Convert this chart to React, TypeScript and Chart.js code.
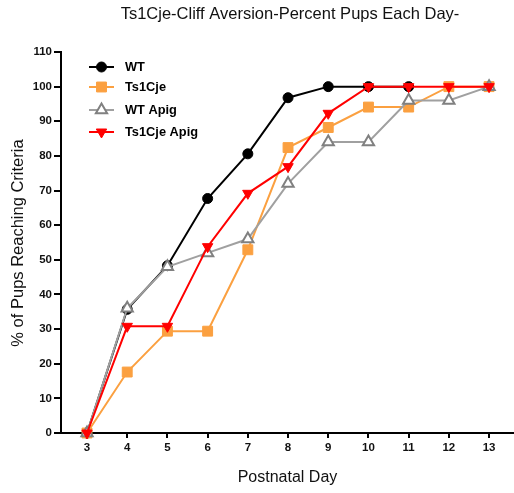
import React, { useEffect, useRef } from "react";
import { Chart, registerables } from "chart.js";
import { drawPoint } from "chart.js/helpers";

Chart.register(...registerables);

// Postnatal days on the x axis
const days = [3, 4, 5, 6, 7, 8, 9, 10, 11, 12, 13];
const yTicks = [0, 10, 20, 30, 40, 50, 60, 70, 80, 90, 100, 110];

// Percent of pups reaching criteria per group
const wt = [0, 35.7, 48.3, 67.7, 80.6, 96.8, 100, 100, 100];
const ts1cje = [0, 17.6, 29.4, 29.4, 52.9, 82.4, 88.2, 94.1, 94.1, 100, 100];
const wtApig = [0, 36, 48, 52, 56, 72, 84, 84, 96, 96, 100];
const ts1cjeApig = [0, 30.8, 30.8, 53.8, 69.2, 76.9, 92.3, 100, 100, 100, 100];

const seriesNames = ["WT", "Ts1Cje", "WT Apig", "Ts1Cje Apig"];

const FONT = "'Liberation Sans', Arial, Helvetica, sans-serif";

const toPoints = (vals: number[]) => vals.map((v, i) => ({ x: days[i], y: v }));

// Draws title, axis titles and the in-plot legend
const annotations = {
  id: "annotations",
  afterDraw(chart: any) {
    const ctx = chart.ctx;
    const area = chart.chartArea;
    const cx = (area.left + area.right) / 2;
    ctx.save();
    ctx.fillStyle = "#111";
    ctx.textAlign = "center";
    ctx.textBaseline = "middle";
    ctx.font = `16.5px ${FONT}`;
    ctx.fillText("Ts1Cje-Cliff Aversion-Percent Pups Each Day-", 290, 14);

    ctx.font = `16px ${FONT}`;
    ctx.fillText("Postnatal Day", cx, 478);

    ctx.save();
    ctx.translate(18, 243);
    ctx.rotate(-Math.PI / 2);
    ctx.font = `16.5px ${FONT}`;
    ctx.fillText("% of Pups Reaching Criteria", 0, 0);
    ctx.restore();

    // legend
    const rowY = [67, 87, 110, 132];
    chart.data.datasets.forEach((ds: any, i: number) => {
      const y = rowY[i];
      ctx.strokeStyle = ds.borderColor;
      ctx.lineWidth = 2;
      ctx.beginPath();
      ctx.moveTo(89, y);
      ctx.lineTo(114, y);
      ctx.stroke();
      ctx.fillStyle = ds.pointBackgroundColor;
      ctx.strokeStyle = ds.pointBorderColor;
      ctx.lineWidth = ds.pointBorderWidth;
      drawPoint(ctx, { pointStyle: ds.pointStyle, radius: ds.pointRadius, rotation: ds.pointRotation || 0, borderWidth: ds.pointBorderWidth }, 101.5, y);
      ctx.fillStyle = "#000";
      ctx.textAlign = "left";
      ctx.font = `bold 12.8px ${FONT}`;
      ctx.fillText(seriesNames[i], 125, y + 0.5);
    });
    ctx.restore();
  },
};

export default function App() {
  const canvasRef = useRef<HTMLCanvasElement | null>(null);

  useEffect(() => {
    const canvas = canvasRef.current;
    if (!canvas) return;
    const common = { borderWidth: 2, clip: false as any, pointHoverRadius: 6 };
    const chart = new Chart(canvas, {
      type: "line",
      data: {
        datasets: [
          {
            ...common,
            label: seriesNames[0],
            data: toPoints(wt),
            borderColor: "#000000",
            pointBackgroundColor: "#000000",
            pointBorderColor: "#000000",
            pointBorderWidth: 1,
            pointStyle: "circle",
            pointRadius: 5,
            order: 3,
          },
          {
            ...common,
            label: seriesNames[1],
            data: toPoints(ts1cje),
            borderColor: "#FBA040",
            pointBackgroundColor: "#FBA040",
            pointBorderColor: "#FBA040",
            pointBorderWidth: 1,
            pointStyle: "rect",
            pointRadius: 7,
            order: 2,
          },
          {
            ...common,
            label: seriesNames[2],
            data: toPoints(wtApig),
            borderColor: "#A0A0A0",
            pointBackgroundColor: "#FFFFFF",
            pointBorderColor: "#808080",
            pointBorderWidth: 2,
            pointStyle: "triangle",
            pointRadius: 6.5,
            order: 1,
          },
          {
            ...common,
            label: seriesNames[3],
            data: toPoints(ts1cjeApig),
            borderColor: "#FF0000",
            pointBackgroundColor: "#FF0000",
            pointBorderColor: "#FF0000",
            pointBorderWidth: 1,
            pointStyle: "triangle",
            pointRotation: 180,
            pointRadius: 6,
            order: 0,
          },
        ] as any,
      },
      options: {
        responsive: false,
        animation: false,
        layout: { autoPadding: false, padding: { top: 52, right: 0, left: 0, bottom: 0 } },
        plugins: { legend: { display: false }, title: { display: false }, tooltip: { enabled: false } },
        scales: {
          x: {
            type: "linear",
            min: 2.353,
            max: 13.62,
            afterBuildTicks: (scale: any) => {
              scale.ticks = days.map((v) => ({ value: v }));
            },
            afterFit: (scale: any) => {
              scale.height = 60;
              scale.paddingLeft = 0;
              scale.paddingRight = 0;
            },
            grid: { drawOnChartArea: false, drawTicks: true, tickLength: 5, color: "#000", lineWidth: 2 },
            border: { display: true, color: "#000", width: 2 },
            ticks: {
              autoSkip: false,
              maxRotation: 0,
              padding: 3,
              color: "#111",
              font: { family: FONT, size: 11.5, weight: "bold" },
            },
          },
          y: {
            type: "linear",
            min: 0,
            max: 110,
            afterBuildTicks: (scale: any) => {
              scale.ticks = yTicks.map((v) => ({ value: v }));
            },
            afterFit: (scale: any) => {
              scale.width = 61;
              scale.paddingTop = 0;
              scale.paddingBottom = 0;
            },
            grid: { drawOnChartArea: false, drawTicks: true, tickLength: 7, color: "#000", lineWidth: 2 },
            border: { display: true, color: "#000", width: 2 },
            ticks: {
              padding: 2,
              color: "#111",
              font: { family: FONT, size: 11.5, weight: "bold" },
            },
          },
        },
      } as any,
      plugins: [annotations],
    });
    return () => chart.destroy();
  }, []);

  return (
    <div style={{ position: "fixed", left: 0, top: 0, width: 514, height: 493, background: "#fff" }}>
      <canvas ref={canvasRef} width={514} height={493} />
    </div>
  );
}
